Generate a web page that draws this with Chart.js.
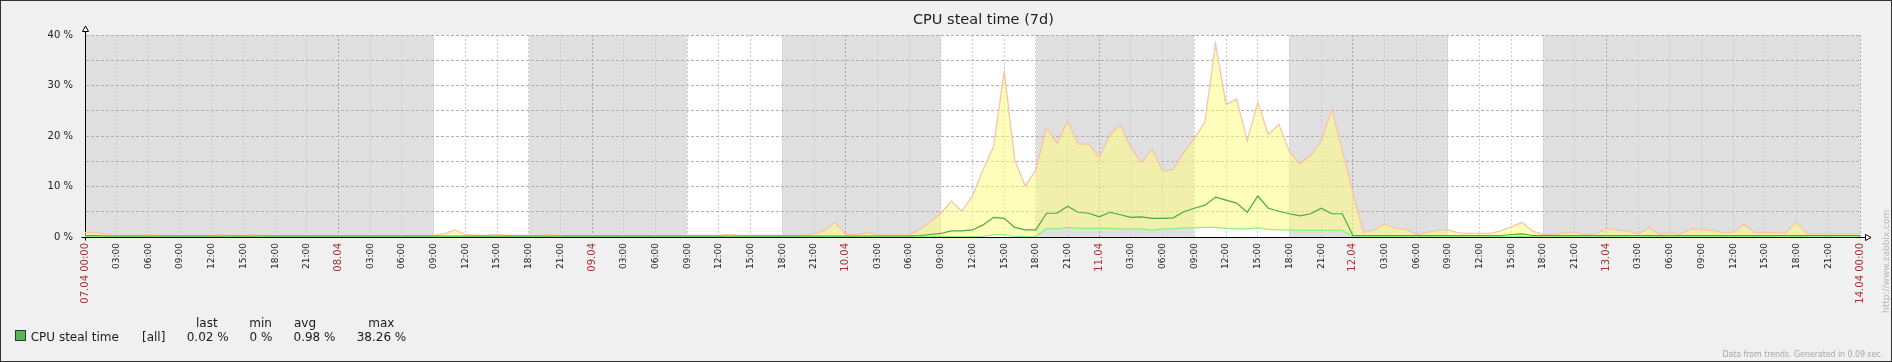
<!DOCTYPE html>
<html><head><meta charset="utf-8">
<script src="https://cdn.jsdelivr.net/npm/chart.js@4"></script>
<style>
html,body{margin:0;padding:0;background:#f0f0f0;}
#wrap{position:relative;width:1892px;height:362px;background:#f0f0f0;font-family:'DejaVu Sans',sans-serif;overflow:hidden}
canvas{position:absolute;left:0;top:0}
.t{position:absolute;white-space:nowrap;color:#1a1a1a;line-height:1;font-size:12px}
#frame{position:absolute;left:0;top:0;width:1892px;height:362px;box-sizing:border-box;border:1px solid #333;pointer-events:none}
#title{font-size:14.5px;left:913px;top:11.7px;color:#222}
#sq{position:absolute;left:15px;top:330px;width:11px;height:11px;box-sizing:border-box;border:1px solid #333;background:#58b858}
#foot{font-size:8px;color:#a8a8a8;right:9px;top:350.5px;letter-spacing:-0.1px}
#wm{font-size:9px;color:#b8b8b8;left:1881.5px;top:313px;transform:rotate(-90deg);transform-origin:0 0}
</style></head>
<body>
<div id="wrap">
<canvas id="c" width="1892" height="362"></canvas>
<div class="t" id="title">CPU steal time (7d)</div>
<div id="sq"></div>
<div class="t" style="left:30.7px;top:330.5px">CPU steal time</div>
<div class="t" style="left:142px;top:330.5px">[all]</div>
<div class="t" style="left:196px;top:316.5px">last</div>
<div class="t" style="left:249.3px;top:316.5px">min</div>
<div class="t" style="left:294px;top:316.5px">avg</div>
<div class="t" style="left:368.3px;top:316.5px">max</div>
<div class="t" style="left:186.7px;top:330.5px">0.02 %</div>
<div class="t" style="left:249.5px;top:330.5px">0 %</div>
<div class="t" style="left:293.5px;top:330.5px">0.98 %</div>
<div class="t" style="left:356.7px;top:330.5px">38.26 %</div>
<div class="t" id="foot">Data from trends. Generated in 0.09 sec.</div>
<div class="t" id="wm">http://www.zabbix.com</div>
<div id="frame"></div>
</div>
<script>
// ---- data (hourly trend values, hour 0 = 07.04 00:00) ----
const dayLabels = ['07.04','08.04','09.04','10.04','11.04','12.04','13.04','14.04'];
const hourLabels = ['00:00','03:00','06:00','09:00','12:00','15:00','18:00','21:00'];
const workDays = [1,2,3,4,5];
const workHours = [9,18];
const yTickValues = [0,5,10,15,20,25,30,35,40];

const maxValues = [
 0.9,0.9,0.5,0.3,0.3,0.3,0.5,0.3,0.3,0.3,0.3,0.3,0.3,0.5,0.3,0.3,0.5,0.3,0.3,0.3,0.3,0.3,0.3,0.3,
 0.3,0.3,0.3,0.3,0.3,0.3,0.3,0.3,0.3,0.3,0.6,1.4,0.5,0.3,0.3,0.5,0.3,0.3,0.3,0.3,0.5,0.3,0.3,0.3,
 0.3,0.3,0.3,0.3,0.3,0.3,0.3,0.3,0.3,0.3,0.3,0.3,0.3,0.5,0.3,0.3,0.3,0.3,0.3,0.3,0.3,0.6,1.3,2.9,
 0.5,0.5,0.9,0.4,0.4,0.4,0.4,1.5,3.0,4.7,7.1,5.1,8.2,13.3,17.9,32.8,15.2,10.1,13.3,21.7,18.5,23.0,18.4,18.4,
 15.8,20.2,22.3,17.6,14.7,17.4,13.1,13.4,16.7,19.5,22.8,38.26,26.3,27.3,19.0,26.7,20.3,22.3,16.9,14.5,16.2,18.9,25.3,17.2,
 8.8,0.9,1.4,2.6,1.7,1.6,0.5,0.9,1.3,1.4,0.8,0.7,0.7,0.7,1.2,2.0,2.9,1.2,0.5,0.5,0.8,0.9,0.5,0.6,
 1.7,1.4,1.2,0.6,1.8,0.6,0.8,0.6,1.6,1.5,1.3,0.9,0.9,2.5,0.9,0.9,0.8,0.8,3.0,0.6,0.6,0.6,0.6,0.6,
 0.6
];
const avgValues = [
 0.3,0.3,0.2,0.2,0.2,0.2,0.2,0.2,0.2,0.2,0.2,0.2,0.2,0.2,0.2,0.2,0.2,0.2,0.2,0.2,0.2,0.2,0.2,0.2,
 0.2,0.2,0.2,0.2,0.2,0.2,0.2,0.2,0.2,0.2,0.2,0.2,0.2,0.2,0.2,0.2,0.2,0.2,0.2,0.2,0.2,0.2,0.2,0.2,
 0.2,0.2,0.2,0.2,0.2,0.2,0.2,0.2,0.2,0.2,0.2,0.2,0.2,0.2,0.2,0.2,0.2,0.2,0.2,0.2,0.2,0.2,0.2,0.2,
 0.2,0.2,0.2,0.2,0.2,0.2,0.2,0.3,0.5,0.7,1.2,1.2,1.4,2.4,3.9,3.7,1.9,1.4,1.4,4.7,4.7,6.1,4.9,4.7,
 4.0,4.9,4.4,3.9,4.0,3.7,3.7,3.8,5.0,5.7,6.3,7.9,7.3,6.7,4.9,8.1,5.7,5.1,4.6,4.2,4.6,5.7,4.6,4.6,
 0.3,0.3,0.3,0.3,0.3,0.3,0.3,0.3,0.3,0.3,0.3,0.3,0.3,0.3,0.3,0.5,0.6,0.3,0.3,0.3,0.3,0.3,0.3,0.3,
 0.3,0.3,0.3,0.3,0.3,0.3,0.3,0.3,0.3,0.3,0.3,0.3,0.3,0.3,0.3,0.3,0.3,0.3,0.3,0.3,0.3,0.3,0.3,0.3,
 0.3
];
const minValues = [
 0.1,0.1,0.1,0.1,0.1,0.1,0.1,0.1,0.1,0.1,0.1,0.1,0.1,0.1,0.1,0.1,0.1,0.1,0.1,0.1,0.1,0.1,0.1,0.1,
 0.1,0.1,0.1,0.1,0.1,0.1,0.1,0.1,0.1,0.1,0.1,0.1,0.1,0.1,0.1,0.1,0.1,0.1,0.1,0.1,0.1,0.1,0.1,0.1,
 0.1,0.1,0.1,0.1,0.1,0.1,0.1,0.1,0.1,0.1,0.1,0.1,0.1,0.1,0.1,0.1,0.1,0.1,0.1,0.1,0.1,0.1,0.1,0.1,
 0.1,0.1,0.1,0.1,0.1,0.1,0.1,0.1,0.1,0.1,0.1,0.1,0.1,0.1,0.5,0.5,0.1,0.1,0.1,1.7,1.6,1.9,1.7,1.7,
 1.7,1.7,1.6,1.6,1.6,1.3,1.6,1.6,1.8,1.8,1.9,1.9,1.7,1.6,1.6,1.8,1.5,1.4,1.4,1.3,1.3,1.3,1.3,1.3,
 0.1,0.1,0.1,0.1,0.1,0.1,0.1,0.1,0.1,0.1,0.1,0.1,0.1,0.1,0.1,0.1,0.1,0.1,0.1,0.1,0.1,0.1,0.1,0.1,
 0.1,0.1,0.1,0.1,0.1,0.1,0.1,0.1,0.1,0.1,0.1,0.1,0.1,0.1,0.1,0.1,0.1,0.1,0.1,0.1,0.1,0.1,0.1,0.1,
 0.1
];

const totalHours = (dayLabels.length - 1) * 24;
const xTickValues = [];
for (let h = 0; h <= totalHours; h += 3) xTickValues.push(h);
const toPts = arr => arr.map((v, i) => ({x: i, y: v}));

const FONT = "'DejaVu Sans', sans-serif";

const bands = {
  id: 'bands',
  beforeDraw(chart) {
    const {ctx, chartArea: a, scales: {x}} = chart;
    ctx.save();
    ctx.fillStyle = '#e0e0e0';
    ctx.fillRect(a.left, a.top, a.right - a.left, a.bottom - a.top);
    ctx.fillStyle = '#ffffff';
    workDays.forEach(d => {
      const x0 = x.getPixelForValue(d * 24 + workHours[0]);
      const x1 = x.getPixelForValue(d * 24 + workHours[1]);
      ctx.fillRect(Math.round(x0), a.top, Math.round(x1) - Math.round(x0), a.bottom - a.top);
    });
    ctx.restore();
  }
};

const axisArrows = {
  id: 'axisArrows',
  afterDraw(chart) {
    const {ctx, chartArea: a} = chart;
    const L = Math.round(a.left) + 0.5, B = Math.round(a.bottom) + 0.5;
    const T = Math.round(a.top), R = Math.round(a.right);
    ctx.save();
    ctx.strokeStyle = '#000';
    ctx.lineWidth = 1;
    ctx.beginPath();
    ctx.moveTo(L, T + 1); ctx.lineTo(L, T - 4);
    ctx.moveTo(L - 4, B); ctx.lineTo(L, B);
    ctx.moveTo(L, B); ctx.lineTo(L, B + 3);
    ctx.moveTo(R, B); ctx.lineTo(R + 5, B);
    ctx.stroke();
    ctx.fillStyle = '#fff';
    ctx.beginPath();
    ctx.moveTo(L, T - 9); ctx.lineTo(L + 3, T - 3.5); ctx.lineTo(L - 3, T - 3.5); ctx.closePath();
    ctx.fill(); ctx.stroke();
    ctx.beginPath();
    ctx.moveTo(R + 11, B); ctx.lineTo(R + 5.5, B - 3); ctx.lineTo(R + 5.5, B + 3); ctx.closePath();
    ctx.fill(); ctx.stroke();
    ctx.restore();
  }
};

function xLabel(v) {
  const d = Math.floor(v / 24), hh = v % 24;
  if (v === 0 || v === totalHours) return dayLabels[d] + ' ' + hourLabels[0];
  if (hh === 0) return dayLabels[d];
  return hourLabels[hh / 3];
}

new Chart(document.getElementById('c'), {
  type: 'line',
  data: {
    datasets: [
      {label: 'max', data: toPts(maxValues), borderColor: '#fbc2aa', borderWidth: 1.3,
       backgroundColor: 'rgba(255,255,125,0.52)', fill: 2, order: 2},
      {label: 'avg', data: toPts(avgValues), borderColor: '#45ad38', borderWidth: 1.2, fill: false, order: 0},
      {label: 'min', data: toPts(minValues), borderColor: '#8ef07a', borderWidth: 1.2, fill: false, order: 1}
    ]
  },
  options: {
    responsive: false,
    animation: false,
    events: [],
    elements: {point: {radius: 0}, line: {tension: 0}},
    layout: {padding: {top: 35, right: 32, left: 0, bottom: 0}},
    plugins: {
      legend: {display: false},
      tooltip: {enabled: false},
      title: {display: false},
      filler: {drawTime: 'beforeDatasetsDraw'}
    },
    scales: {
      x: {
        type: 'linear', min: 0, max: totalHours,
        afterFit: s => { s.height = 125; },
        afterBuildTicks: s => { s.ticks = xTickValues.map(v => ({value: v})); },
        grid: {
          drawTicks: false, lineWidth: 1,
          color: c => (c.tick && c.tick.value % 24 === 0) ? '#a8a8a8' : '#cbcbcb'
        },
        border: {display: true, color: '#000', width: 1, dash: [2, 2]},
        ticks: {
          autoSkip: false, minRotation: 90, maxRotation: 90, padding: 6,
          callback: v => xLabel(v),
          color: c => (c.tick && c.tick.value % 24 === 0) ? '#a83232' : '#1a1a1a',
          font: c => ({family: FONT, size: (c.tick && c.tick.value % 24 === 0) ? 10 : 9})
        }
      },
      y: {
        type: 'linear', min: 0, max: 40,
        afterFit: s => { s.width = 85; },
        afterBuildTicks: s => { s.ticks = yTickValues.map(v => ({value: v})); },
        grid: {drawTicks: false, lineWidth: 1, color: '#b0b0b0'},
        border: {display: true, color: '#000', width: 1, dash: [3, 2]},
        ticks: {
          autoSkip: false, padding: 12, color: '#222',
          font: {family: FONT, size: 10},
          callback: v => (v % 10 === 0) ? v + ' %' : ''
        }
      }
    }
  },
  plugins: [bands, axisArrows]
});
</script>
</body></html>
